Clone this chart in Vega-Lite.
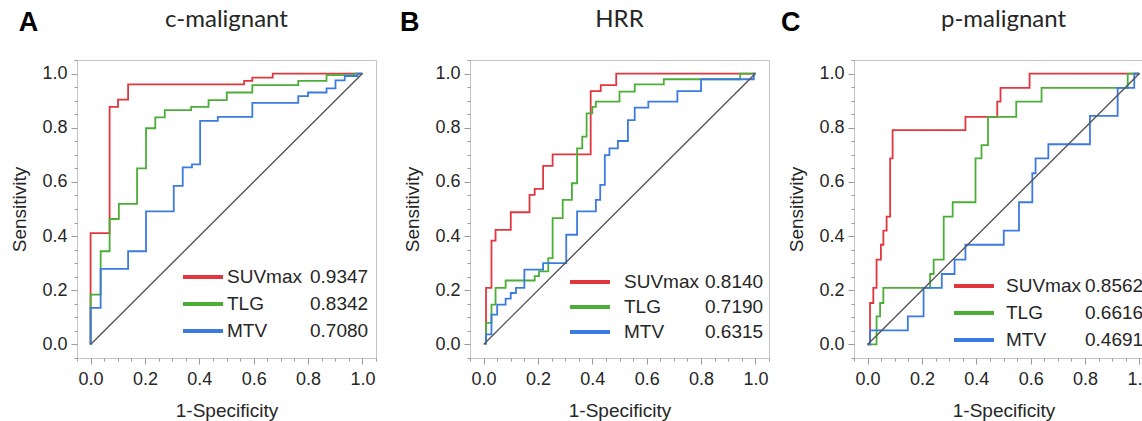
{
  "$schema": "https://vega.github.io/schema/vega-lite/v6.json",
  "background": "white",
  "padding": {"left": 10, "top": 7, "right": 0, "bottom": 0},
  "spacing": 10,
  "config": {
    "view": {"stroke": "#c4c4c4", "strokeWidth": 1},
    "font": "Liberation Sans",
    "axis": {
      "grid": false,
      "domain": false,
      "labelFont": "Liberation Sans",
      "labelFontSize": 18,
      "labelColor": "#262626",
      "labelPadding": 4,
      "labelOverlap": false,
      "labelFlush": false,
      "tickColor": "#9a9a9a",
      "titleFont": "Liberation Sans",
      "titleFontSize": 19,
      "titleFontWeight": "normal",
      "titleColor": "#262626"
    },
    "axisY": {"titlePadding": 12},
    "axisX": {"titlePadding": 13, "labelPadding": 6},
    "title": {"font": "Lato", "fontSize": 24, "fontWeight": "normal", "color": "#262626", "anchor": "middle", "frame": "group", "baseline": "alphabetic", "offset": -23},
    "legend": {"padding": 0, "labelFont": "Liberation Sans", "labelFontSize": 19, "labelColor": "#262626"}
  },
  "datasets": {
    "roc": [
      {"panel": "A", "series": "SUVmax", "auc": "0.9347", "step": 0, "fpr": 0, "tpr": 0},
      {"panel": "A", "series": "SUVmax", "auc": "0.9347", "step": 1, "fpr": 0, "tpr": 0.411},
      {"panel": "A", "series": "SUVmax", "auc": "0.9347", "step": 2, "fpr": 0.070, "tpr": 0.877},
      {"panel": "A", "series": "SUVmax", "auc": "0.9347", "step": 3, "fpr": 0.101, "tpr": 0.904},
      {"panel": "A", "series": "SUVmax", "auc": "0.9347", "step": 4, "fpr": 0.138, "tpr": 0.960},
      {"panel": "A", "series": "SUVmax", "auc": "0.9347", "step": 5, "fpr": 0.565, "tpr": 0.973},
      {"panel": "A", "series": "SUVmax", "auc": "0.9347", "step": 6, "fpr": 0.595, "tpr": 0.985},
      {"panel": "A", "series": "SUVmax", "auc": "0.9347", "step": 7, "fpr": 0.670, "tpr": 1.0},
      {"panel": "A", "series": "SUVmax", "auc": "0.9347", "step": 8, "fpr": 1.0, "tpr": 1.0},

      {"panel": "A", "series": "TLG", "auc": "0.8342", "step": 0, "fpr": 0, "tpr": 0},
      {"panel": "A", "series": "TLG", "auc": "0.8342", "step": 1, "fpr": 0, "tpr": 0.184},
      {"panel": "A", "series": "TLG", "auc": "0.8342", "step": 2, "fpr": 0.037, "tpr": 0.344},
      {"panel": "A", "series": "TLG", "auc": "0.8342", "step": 3, "fpr": 0.070, "tpr": 0.463},
      {"panel": "A", "series": "TLG", "auc": "0.8342", "step": 4, "fpr": 0.104, "tpr": 0.519},
      {"panel": "A", "series": "TLG", "auc": "0.8342", "step": 5, "fpr": 0.171, "tpr": 0.650},
      {"panel": "A", "series": "TLG", "auc": "0.8342", "step": 6, "fpr": 0.204, "tpr": 0.798},
      {"panel": "A", "series": "TLG", "auc": "0.8342", "step": 7, "fpr": 0.238, "tpr": 0.838},
      {"panel": "A", "series": "TLG", "auc": "0.8342", "step": 8, "fpr": 0.273, "tpr": 0.865},
      {"panel": "A", "series": "TLG", "auc": "0.8342", "step": 9, "fpr": 0.370, "tpr": 0.877},
      {"panel": "A", "series": "TLG", "auc": "0.8342", "step": 10, "fpr": 0.434, "tpr": 0.902},
      {"panel": "A", "series": "TLG", "auc": "0.8342", "step": 11, "fpr": 0.501, "tpr": 0.930},
      {"panel": "A", "series": "TLG", "auc": "0.8342", "step": 12, "fpr": 0.595, "tpr": 0.957},
      {"panel": "A", "series": "TLG", "auc": "0.8342", "step": 13, "fpr": 0.764, "tpr": 0.973},
      {"panel": "A", "series": "TLG", "auc": "0.8342", "step": 14, "fpr": 0.868, "tpr": 0.994},
      {"panel": "A", "series": "TLG", "auc": "0.8342", "step": 15, "fpr": 0.969, "tpr": 1.0},
      {"panel": "A", "series": "TLG", "auc": "0.8342", "step": 16, "fpr": 1.0, "tpr": 1.0},

      {"panel": "A", "series": "MTV", "auc": "0.7080", "step": 0, "fpr": 0, "tpr": 0},
      {"panel": "A", "series": "MTV", "auc": "0.7080", "step": 1, "fpr": 0, "tpr": 0.135},
      {"panel": "A", "series": "MTV", "auc": "0.7080", "step": 2, "fpr": 0.037, "tpr": 0.279},
      {"panel": "A", "series": "MTV", "auc": "0.7080", "step": 3, "fpr": 0.138, "tpr": 0.344},
      {"panel": "A", "series": "MTV", "auc": "0.7080", "step": 4, "fpr": 0.204, "tpr": 0.491},
      {"panel": "A", "series": "MTV", "auc": "0.7080", "step": 5, "fpr": 0.306, "tpr": 0.585},
      {"panel": "A", "series": "MTV", "auc": "0.7080", "step": 6, "fpr": 0.339, "tpr": 0.654},
      {"panel": "A", "series": "MTV", "auc": "0.7080", "step": 7, "fpr": 0.373, "tpr": 0.665},
      {"panel": "A", "series": "MTV", "auc": "0.7080", "step": 8, "fpr": 0.403, "tpr": 0.825},
      {"panel": "A", "series": "MTV", "auc": "0.7080", "step": 9, "fpr": 0.468, "tpr": 0.840},
      {"panel": "A", "series": "MTV", "auc": "0.7080", "step": 10, "fpr": 0.595, "tpr": 0.892},
      {"panel": "A", "series": "MTV", "auc": "0.7080", "step": 11, "fpr": 0.764, "tpr": 0.917},
      {"panel": "A", "series": "MTV", "auc": "0.7080", "step": 12, "fpr": 0.800, "tpr": 0.930},
      {"panel": "A", "series": "MTV", "auc": "0.7080", "step": 13, "fpr": 0.868, "tpr": 0.945},
      {"panel": "A", "series": "MTV", "auc": "0.7080", "step": 14, "fpr": 0.901, "tpr": 0.975},
      {"panel": "A", "series": "MTV", "auc": "0.7080", "step": 15, "fpr": 0.935, "tpr": 0.991},
      {"panel": "A", "series": "MTV", "auc": "0.7080", "step": 16, "fpr": 0.982, "tpr": 1.0},
      {"panel": "A", "series": "MTV", "auc": "0.7080", "step": 17, "fpr": 1.0, "tpr": 1.0},

      {"panel": "B", "series": "SUVmax", "auc": "0.8140", "step": 0, "fpr": 0.009, "tpr": 0},
      {"panel": "B", "series": "SUVmax", "auc": "0.8140", "step": 1, "fpr": 0.009, "tpr": 0.209},
      {"panel": "B", "series": "SUVmax", "auc": "0.8140", "step": 2, "fpr": 0.029, "tpr": 0.383},
      {"panel": "B", "series": "SUVmax", "auc": "0.8140", "step": 3, "fpr": 0.044, "tpr": 0.423},
      {"panel": "B", "series": "SUVmax", "auc": "0.8140", "step": 4, "fpr": 0.100, "tpr": 0.488},
      {"panel": "B", "series": "SUVmax", "auc": "0.8140", "step": 5, "fpr": 0.169, "tpr": 0.552},
      {"panel": "B", "series": "SUVmax", "auc": "0.8140", "step": 6, "fpr": 0.188, "tpr": 0.574},
      {"panel": "B", "series": "SUVmax", "auc": "0.8140", "step": 7, "fpr": 0.219, "tpr": 0.659},
      {"panel": "B", "series": "SUVmax", "auc": "0.8140", "step": 8, "fpr": 0.254, "tpr": 0.702},
      {"panel": "B", "series": "SUVmax", "auc": "0.8140", "step": 9, "fpr": 0.394, "tpr": 0.935},
      {"panel": "B", "series": "SUVmax", "auc": "0.8140", "step": 10, "fpr": 0.431, "tpr": 0.957},
      {"panel": "B", "series": "SUVmax", "auc": "0.8140", "step": 11, "fpr": 0.488, "tpr": 1.0},
      {"panel": "B", "series": "SUVmax", "auc": "0.8140", "step": 12, "fpr": 1.0, "tpr": 1.0},

      {"panel": "B", "series": "TLG", "auc": "0.7190", "step": 0, "fpr": 0.009, "tpr": 0},
      {"panel": "B", "series": "TLG", "auc": "0.7190", "step": 1, "fpr": 0.009, "tpr": 0.080},
      {"panel": "B", "series": "TLG", "auc": "0.7190", "step": 2, "fpr": 0.029, "tpr": 0.147},
      {"panel": "B", "series": "TLG", "auc": "0.7190", "step": 3, "fpr": 0.044, "tpr": 0.209},
      {"panel": "B", "series": "TLG", "auc": "0.7190", "step": 4, "fpr": 0.081, "tpr": 0.236},
      {"panel": "B", "series": "TLG", "auc": "0.7190", "step": 5, "fpr": 0.188, "tpr": 0.252},
      {"panel": "B", "series": "TLG", "auc": "0.7190", "step": 6, "fpr": 0.204, "tpr": 0.270},
      {"panel": "B", "series": "TLG", "auc": "0.7190", "step": 7, "fpr": 0.238, "tpr": 0.319},
      {"panel": "B", "series": "TLG", "auc": "0.7190", "step": 8, "fpr": 0.254, "tpr": 0.466},
      {"panel": "B", "series": "TLG", "auc": "0.7190", "step": 9, "fpr": 0.291, "tpr": 0.534},
      {"panel": "B", "series": "TLG", "auc": "0.7190", "step": 10, "fpr": 0.325, "tpr": 0.595},
      {"panel": "B", "series": "TLG", "auc": "0.7190", "step": 11, "fpr": 0.344, "tpr": 0.724},
      {"panel": "B", "series": "TLG", "auc": "0.7190", "step": 12, "fpr": 0.363, "tpr": 0.767},
      {"panel": "B", "series": "TLG", "auc": "0.7190", "step": 13, "fpr": 0.379, "tpr": 0.853},
      {"panel": "B", "series": "TLG", "auc": "0.7190", "step": 14, "fpr": 0.400, "tpr": 0.877},
      {"panel": "B", "series": "TLG", "auc": "0.7190", "step": 15, "fpr": 0.413, "tpr": 0.896},
      {"panel": "B", "series": "TLG", "auc": "0.7190", "step": 16, "fpr": 0.500, "tpr": 0.933},
      {"panel": "B", "series": "TLG", "auc": "0.7190", "step": 17, "fpr": 0.556, "tpr": 0.960},
      {"panel": "B", "series": "TLG", "auc": "0.7190", "step": 18, "fpr": 0.663, "tpr": 0.979},
      {"panel": "B", "series": "TLG", "auc": "0.7190", "step": 19, "fpr": 0.944, "tpr": 1.0},
      {"panel": "B", "series": "TLG", "auc": "0.7190", "step": 20, "fpr": 1.0, "tpr": 1.0},

      {"panel": "B", "series": "MTV", "auc": "0.6315", "step": 0, "fpr": 0.009, "tpr": 0},
      {"panel": "B", "series": "MTV", "auc": "0.6315", "step": 1, "fpr": 0.009, "tpr": 0.037},
      {"panel": "B", "series": "MTV", "auc": "0.6315", "step": 2, "fpr": 0.029, "tpr": 0.110},
      {"panel": "B", "series": "MTV", "auc": "0.6315", "step": 3, "fpr": 0.050, "tpr": 0.147},
      {"panel": "B", "series": "MTV", "auc": "0.6315", "step": 4, "fpr": 0.081, "tpr": 0.169},
      {"panel": "B", "series": "MTV", "auc": "0.6315", "step": 5, "fpr": 0.100, "tpr": 0.190},
      {"panel": "B", "series": "MTV", "auc": "0.6315", "step": 6, "fpr": 0.119, "tpr": 0.209},
      {"panel": "B", "series": "MTV", "auc": "0.6315", "step": 7, "fpr": 0.150, "tpr": 0.276},
      {"panel": "B", "series": "MTV", "auc": "0.6315", "step": 8, "fpr": 0.219, "tpr": 0.300},
      {"panel": "B", "series": "MTV", "auc": "0.6315", "step": 9, "fpr": 0.304, "tpr": 0.405},
      {"panel": "B", "series": "MTV", "auc": "0.6315", "step": 10, "fpr": 0.344, "tpr": 0.491},
      {"panel": "B", "series": "MTV", "auc": "0.6315", "step": 11, "fpr": 0.413, "tpr": 0.534},
      {"panel": "B", "series": "MTV", "auc": "0.6315", "step": 12, "fpr": 0.429, "tpr": 0.589},
      {"panel": "B", "series": "MTV", "auc": "0.6315", "step": 13, "fpr": 0.446, "tpr": 0.699},
      {"panel": "B", "series": "MTV", "auc": "0.6315", "step": 14, "fpr": 0.463, "tpr": 0.724},
      {"panel": "B", "series": "MTV", "auc": "0.6315", "step": 15, "fpr": 0.494, "tpr": 0.751},
      {"panel": "B", "series": "MTV", "auc": "0.6315", "step": 16, "fpr": 0.531, "tpr": 0.828},
      {"panel": "B", "series": "MTV", "auc": "0.6315", "step": 17, "fpr": 0.556, "tpr": 0.874},
      {"panel": "B", "series": "MTV", "auc": "0.6315", "step": 18, "fpr": 0.606, "tpr": 0.896},
      {"panel": "B", "series": "MTV", "auc": "0.6315", "step": 19, "fpr": 0.713, "tpr": 0.935},
      {"panel": "B", "series": "MTV", "auc": "0.6315", "step": 20, "fpr": 0.800, "tpr": 0.979},
      {"panel": "B", "series": "MTV", "auc": "0.6315", "step": 21, "fpr": 0.994, "tpr": 1.0},
      {"panel": "B", "series": "MTV", "auc": "0.6315", "step": 22, "fpr": 1.0, "tpr": 1.0},

      {"panel": "C", "series": "SUVmax", "auc": "0.8562", "step": 0, "fpr": 0, "tpr": 0},
      {"panel": "C", "series": "SUVmax", "auc": "0.8562", "step": 1, "fpr": 0.009, "tpr": 0.153},
      {"panel": "C", "series": "SUVmax", "auc": "0.8562", "step": 2, "fpr": 0.021, "tpr": 0.209},
      {"panel": "C", "series": "SUVmax", "auc": "0.8562", "step": 3, "fpr": 0.033, "tpr": 0.313},
      {"panel": "C", "series": "SUVmax", "auc": "0.8562", "step": 4, "fpr": 0.049, "tpr": 0.368},
      {"panel": "C", "series": "SUVmax", "auc": "0.8562", "step": 5, "fpr": 0.058, "tpr": 0.420},
      {"panel": "C", "series": "SUVmax", "auc": "0.8562", "step": 6, "fpr": 0.070, "tpr": 0.472},
      {"panel": "C", "series": "SUVmax", "auc": "0.8562", "step": 7, "fpr": 0.083, "tpr": 0.687},
      {"panel": "C", "series": "SUVmax", "auc": "0.8562", "step": 8, "fpr": 0.092, "tpr": 0.791},
      {"panel": "C", "series": "SUVmax", "auc": "0.8562", "step": 9, "fpr": 0.360, "tpr": 0.840},
      {"panel": "C", "series": "SUVmax", "auc": "0.8562", "step": 10, "fpr": 0.477, "tpr": 0.896},
      {"panel": "C", "series": "SUVmax", "auc": "0.8562", "step": 11, "fpr": 0.489, "tpr": 0.947},
      {"panel": "C", "series": "SUVmax", "auc": "0.8562", "step": 12, "fpr": 0.596, "tpr": 1.0},
      {"panel": "C", "series": "SUVmax", "auc": "0.8562", "step": 13, "fpr": 1.0, "tpr": 1.0},

      {"panel": "C", "series": "TLG", "auc": "0.6616", "step": 0, "fpr": 0, "tpr": 0},
      {"panel": "C", "series": "TLG", "auc": "0.6616", "step": 1, "fpr": 0.033, "tpr": 0.104},
      {"panel": "C", "series": "TLG", "auc": "0.6616", "step": 2, "fpr": 0.046, "tpr": 0.153},
      {"panel": "C", "series": "TLG", "auc": "0.6616", "step": 3, "fpr": 0.058, "tpr": 0.209},
      {"panel": "C", "series": "TLG", "auc": "0.6616", "step": 4, "fpr": 0.230, "tpr": 0.260},
      {"panel": "C", "series": "TLG", "auc": "0.6616", "step": 5, "fpr": 0.243, "tpr": 0.313},
      {"panel": "C", "series": "TLG", "auc": "0.6616", "step": 6, "fpr": 0.280, "tpr": 0.472},
      {"panel": "C", "series": "TLG", "auc": "0.6616", "step": 7, "fpr": 0.313, "tpr": 0.525},
      {"panel": "C", "series": "TLG", "auc": "0.6616", "step": 8, "fpr": 0.397, "tpr": 0.687},
      {"panel": "C", "series": "TLG", "auc": "0.6616", "step": 9, "fpr": 0.419, "tpr": 0.736},
      {"panel": "C", "series": "TLG", "auc": "0.6616", "step": 10, "fpr": 0.443, "tpr": 0.840},
      {"panel": "C", "series": "TLG", "auc": "0.6616", "step": 11, "fpr": 0.547, "tpr": 0.896},
      {"panel": "C", "series": "TLG", "auc": "0.6616", "step": 12, "fpr": 0.640, "tpr": 0.947},
      {"panel": "C", "series": "TLG", "auc": "0.6616", "step": 13, "fpr": 0.957, "tpr": 1.0},
      {"panel": "C", "series": "TLG", "auc": "0.6616", "step": 14, "fpr": 1.0, "tpr": 1.0},

      {"panel": "C", "series": "MTV", "auc": "0.4691", "step": 0, "fpr": 0, "tpr": 0},
      {"panel": "C", "series": "MTV", "auc": "0.4691", "step": 1, "fpr": 0.009, "tpr": 0.052},
      {"panel": "C", "series": "MTV", "auc": "0.4691", "step": 2, "fpr": 0.148, "tpr": 0.104},
      {"panel": "C", "series": "MTV", "auc": "0.4691", "step": 3, "fpr": 0.206, "tpr": 0.209},
      {"panel": "C", "series": "MTV", "auc": "0.4691", "step": 4, "fpr": 0.273, "tpr": 0.260},
      {"panel": "C", "series": "MTV", "auc": "0.4691", "step": 5, "fpr": 0.320, "tpr": 0.313},
      {"panel": "C", "series": "MTV", "auc": "0.4691", "step": 6, "fpr": 0.360, "tpr": 0.368},
      {"panel": "C", "series": "MTV", "auc": "0.4691", "step": 7, "fpr": 0.501, "tpr": 0.420},
      {"panel": "C", "series": "MTV", "auc": "0.4691", "step": 8, "fpr": 0.557, "tpr": 0.525},
      {"panel": "C", "series": "MTV", "auc": "0.4691", "step": 9, "fpr": 0.606, "tpr": 0.632},
      {"panel": "C", "series": "MTV", "auc": "0.4691", "step": 10, "fpr": 0.618, "tpr": 0.687},
      {"panel": "C", "series": "MTV", "auc": "0.4691", "step": 11, "fpr": 0.665, "tpr": 0.739},
      {"panel": "C", "series": "MTV", "auc": "0.4691", "step": 12, "fpr": 0.818, "tpr": 0.844},
      {"panel": "C", "series": "MTV", "auc": "0.4691", "step": 13, "fpr": 0.920, "tpr": 0.947},
      {"panel": "C", "series": "MTV", "auc": "0.4691", "step": 14, "fpr": 0.981, "tpr": 1.0},
      {"panel": "C", "series": "MTV", "auc": "0.4691", "step": 15, "fpr": 1.0, "tpr": 1.0}
    ]
  },
  "hconcat": [
    {
      "spacing": 22,
      "hconcat": [
        {
          "title": {"text": "c-malignant"},
          "width": 299, "height": 298,
          "resolve": {"axis": {"x": "independent", "y": "independent"}},
          "layer": [
            {
              "data": {"name": "roc"},
              "transform": [{"filter": "datum.panel === 'A'"}],
              "mark": {"type": "line", "interpolate": "step-after", "strokeWidth": 1.8},
              "encoding": {
                "x": {"field": "fpr", "type": "quantitative", "scale": {"domain": [-0.05, 1.05], "nice": false, "zero": false},
                  "axis": {"title": "1-Specificity", "orient": "bottom", "values": [0, 0.2, 0.4, 0.6, 0.8, 1], "format": ".1f", "tickSize": 6}},
                "y": {"field": "tpr", "type": "quantitative", "scale": {"domain": [-0.05, 1.05], "nice": false, "zero": false},
                  "axis": {"title": "Sensitivity", "orient": "left", "values": [0, 0.2, 0.4, 0.6, 0.8, 1], "format": ".1f", "tickSize": 6}},
                "order": {"field": "step"},
                "color": {"field": "series", "type": "nominal", "scale": {"domain": ["SUVmax", "TLG", "MTV"], "range": ["#e2363f", "#4bae38", "#3b7be0"]},
                  "legend": {"orient": "none", "legendX": 94, "legendY": 205, "title": null, "symbolType": "M0,0H4", "symbolSize": 400, "symbolStrokeWidth": 4, "labelOffset": 32, "rowPadding": 5}},
                "strokeDash": {"field": "auc", "type": "nominal", "sort": "descending", "scale": {"range": [[1, 0], [1, 0], [1, 0]]},
                  "legend": {"orient": "none", "legendX": 205, "legendY": 205, "title": null, "symbolType": "M0,0H4", "symbolSize": 400, "symbolOpacity": 0, "symbolStrokeWidth": 4, "symbolStrokeColor": "transparent", "labelOffset": 4, "rowPadding": 5}}
              }
            },
            {
              "data": {"values": [{}]},
              "mark": {"type": "rule", "color": "#555555", "strokeWidth": 1.4},
              "encoding": {
                "x": {"datum": 0, "type": "quantitative", "axis": {"orient": "bottom", "title": null, "labels": false, "tickSize": 3, "values": [-0.05, 0.05, 0.1, 0.15, 0.25, 0.3, 0.35, 0.45, 0.5, 0.55, 0.65, 0.7, 0.75, 0.85, 0.9, 0.95, 1.05]}},
                "y": {"datum": 0, "type": "quantitative", "axis": {"orient": "left", "title": null, "labels": false, "tickSize": 3, "values": [-0.05, 0.05, 0.1, 0.15, 0.25, 0.3, 0.35, 0.45, 0.5, 0.55, 0.65, 0.7, 0.75, 0.85, 0.9, 0.95, 1.05]}},
                "x2": {"datum": 1},
                "y2": {"datum": 1}
              }
            },
            {
              "data": {"values": [{}]},
              "mark": {"type": "text", "text": "A", "font": "Liberation Sans", "fontSize": 27, "fontWeight": "bold", "color": "#000000", "clip": false},
              "encoding": {
                "x": {"datum": -0.228, "type": "quantitative", "axis": null},
                "y": {"datum": 1.185, "type": "quantitative", "axis": null}
              }
            }
          ]
        },
        {
          "title": {"text": "HRR"},
          "width": 299, "height": 298,
          "resolve": {"axis": {"x": "independent", "y": "independent"}},
          "layer": [
            {
              "data": {"name": "roc"},
              "transform": [{"filter": "datum.panel === 'B'"}],
              "mark": {"type": "line", "interpolate": "step-after", "strokeWidth": 1.8},
              "encoding": {
                "x": {"field": "fpr", "type": "quantitative", "scale": {"domain": [-0.05, 1.05], "nice": false, "zero": false},
                  "axis": {"title": "1-Specificity", "orient": "bottom", "values": [0, 0.2, 0.4, 0.6, 0.8, 1], "format": ".1f", "tickSize": 6}},
                "y": {"field": "tpr", "type": "quantitative", "scale": {"domain": [-0.05, 1.05], "nice": false, "zero": false},
                  "axis": {"title": "Sensitivity", "orient": "left", "values": [0, 0.2, 0.4, 0.6, 0.8, 1], "format": ".1f", "tickSize": 6}},
                "order": {"field": "step"},
                "color": {"field": "series", "type": "nominal", "scale": {"domain": ["SUVmax", "TLG", "MTV"], "range": ["#e2363f", "#4bae38", "#3b7be0"]},
                  "legend": {"orient": "none", "legendX": 88, "legendY": 210, "title": null, "symbolType": "M0,0H4", "symbolSize": 400, "symbolStrokeWidth": 4, "labelOffset": 42, "rowPadding": 3}},
                "strokeDash": {"field": "auc", "type": "nominal", "sort": "descending", "scale": {"range": [[1, 0], [1, 0], [1, 0]]},
                  "legend": {"orient": "none", "legendX": 207, "legendY": 210, "title": null, "symbolType": "M0,0H4", "symbolSize": 400, "symbolOpacity": 0, "symbolStrokeWidth": 4, "symbolStrokeColor": "transparent", "labelOffset": 4, "rowPadding": 3}}
              }
            },
            {
              "data": {"values": [{}]},
              "mark": {"type": "rule", "color": "#555555", "strokeWidth": 1.4},
              "encoding": {
                "x": {"datum": 0, "type": "quantitative", "axis": {"orient": "bottom", "title": null, "labels": false, "tickSize": 3, "values": [-0.05, 0.05, 0.1, 0.15, 0.25, 0.3, 0.35, 0.45, 0.5, 0.55, 0.65, 0.7, 0.75, 0.85, 0.9, 0.95, 1.05]}},
                "y": {"datum": 0, "type": "quantitative", "axis": {"orient": "left", "title": null, "labels": false, "tickSize": 3, "values": [-0.05, 0.05, 0.1, 0.15, 0.25, 0.3, 0.35, 0.45, 0.5, 0.55, 0.65, 0.7, 0.75, 0.85, 0.9, 0.95, 1.05]}},
                "x2": {"datum": 1},
                "y2": {"datum": 1}
              }
            },
            {
              "data": {"values": [{}]},
              "mark": {"type": "text", "text": "B", "font": "Liberation Sans", "fontSize": 27, "fontWeight": "bold", "color": "#000000", "clip": false},
              "encoding": {
                "x": {"datum": -0.272, "type": "quantitative", "axis": null},
                "y": {"datum": 1.185, "type": "quantitative", "axis": null}
              }
            }
          ]
        }
      ],
      "resolve": {
        "scale": {"color": "independent", "strokeDash": "independent"},
        "legend": {"color": "independent", "strokeDash": "independent"}
      }
    },
    {
      "title": {"text": "p-malignant"},
      "width": 299, "height": 298,
      "resolve": {"axis": {"x": "independent", "y": "independent"}},
      "layer": [
        {
          "data": {"name": "roc"},
          "transform": [{"filter": "datum.panel === 'C'"}],
          "mark": {"type": "line", "interpolate": "step-after", "strokeWidth": 1.8},
          "encoding": {
            "x": {"field": "fpr", "type": "quantitative", "scale": {"domain": [-0.05, 1.05], "nice": false, "zero": false},
              "axis": {"title": "1-Specificity", "orient": "bottom", "values": [0, 0.2, 0.4, 0.6, 0.8, 1], "format": ".1f", "tickSize": 6}},
            "y": {"field": "tpr", "type": "quantitative", "scale": {"domain": [-0.05, 1.05], "nice": false, "zero": false},
              "axis": {"title": "Sensitivity", "orient": "left", "values": [0, 0.2, 0.4, 0.6, 0.8, 1], "format": ".1f", "tickSize": 6}},
            "order": {"field": "step"},
            "color": {"field": "series", "type": "nominal", "scale": {"domain": ["SUVmax", "TLG", "MTV"], "range": ["#e2363f", "#4bae38", "#3b7be0"]},
              "legend": {"orient": "none", "legendX": 88, "legendY": 214, "title": null, "symbolType": "M0,0H4", "symbolSize": 400, "symbolStrokeWidth": 4, "labelOffset": 40, "rowPadding": 5}},
            "strokeDash": {"field": "auc", "type": "nominal", "sort": "descending", "scale": {"range": [[1, 0], [1, 0], [1, 0]]},
              "legend": {"orient": "none", "legendX": 203, "legendY": 214, "title": null, "symbolType": "M0,0H4", "symbolSize": 400, "symbolOpacity": 0, "symbolStrokeWidth": 4, "symbolStrokeColor": "transparent", "labelOffset": 4, "rowPadding": 5}}
          }
        },
        {
          "data": {"values": [{}]},
          "mark": {"type": "rule", "color": "#555555", "strokeWidth": 1.4},
          "encoding": {
            "x": {"datum": 0, "type": "quantitative", "axis": {"orient": "bottom", "title": null, "labels": false, "tickSize": 3, "values": [-0.05, 0.05, 0.1, 0.15, 0.25, 0.3, 0.35, 0.45, 0.5, 0.55, 0.65, 0.7, 0.75, 0.85, 0.9, 0.95, 1.05]}},
            "y": {"datum": 0, "type": "quantitative", "axis": {"orient": "left", "title": null, "labels": false, "tickSize": 3, "values": [-0.05, 0.05, 0.1, 0.15, 0.25, 0.3, 0.35, 0.45, 0.5, 0.55, 0.65, 0.7, 0.75, 0.85, 0.9, 0.95, 1.05]}},
            "x2": {"datum": 1},
            "y2": {"datum": 1}
          }
        },
        {
          "data": {"values": [{}]},
          "mark": {"type": "text", "text": "C", "font": "Liberation Sans", "fontSize": 27, "fontWeight": "bold", "color": "#000000", "clip": false},
          "encoding": {
            "x": {"datum": -0.283, "type": "quantitative", "axis": null},
            "y": {"datum": 1.185, "type": "quantitative", "axis": null}
          }
        }
      ]
    }
  ],
  "resolve": {
    "scale": {"color": "independent", "strokeDash": "independent"},
    "legend": {"color": "independent", "strokeDash": "independent"}
  }
}
